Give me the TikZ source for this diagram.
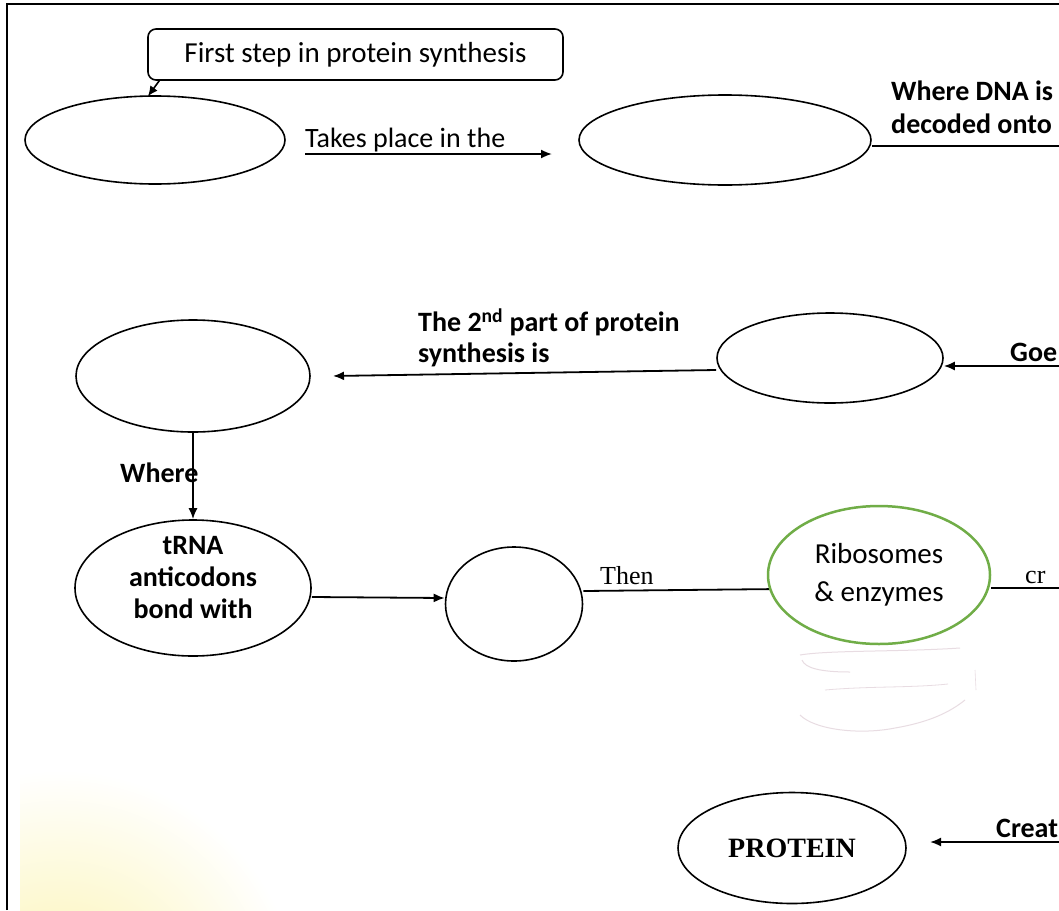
\documentclass[tikz,border=0pt]{standalone}
\usepackage{fontspec}
\setmainfont{Carlito}
\newfontfamily\tnr{Liberation Serif}
\usetikzlibrary{shapes.geometric,arrows.meta}
\definecolor{ogreen}{RGB}{112,173,71}
\definecolor{scrib}{RGB}{232,220,226}
\definecolor{ytint}{RGB}{251,243,172}
\begin{document}
\begin{tikzpicture}[x=1pt,y=-1pt,
  oval/.style={draw, ellipse, line width=1.6pt, inner sep=0pt},
  arr/.style={line width=1.8pt, -{Latex[length=11pt,width=9pt]}},
  conn/.style={line width=1.8pt},
  lbl/.style={font=\fontsize{28}{33}\selectfont, inner sep=0pt, align=left},
  lblb/.style={font=\fontsize{28}{33}\selectfont\bfseries, inner sep=0pt, align=left},
  serif/.style={font=\fontsize{26}{30}\selectfont\tnr, inner sep=0pt},
]
\useasboundingbox (0,0) rectangle (1059,910);
\fill[white] (0,0) rectangle (1059,910);
% yellow tint bottom-left
\begin{scope}
\clip (20,600) rectangle (600,910);
\shade[inner color=ytint, outer color=white] (60,1010) circle (240);
\end{scope}
% frame
\draw[line width=2.5pt] (7,910) -- (7,4) -- (1059,4);

% faint erased scribbles
\draw[scrib, line width=1pt] (800,655) .. controls (830,650) and (900,652) .. (960,648);
\draw[scrib, line width=1pt] (802,660) .. controls (805,668) and (820,672) .. (850,672);
\draw[scrib, line width=0.8pt] (825,690) .. controls (870,686) and (910,688) .. (948,684);
\draw[scrib, line width=1pt] (800,715) .. controls (815,730) and (860,735) .. (895,728) .. controls (930,722) and (950,712) .. (965,700);
\draw[scrib, line width=0.6pt] (975,670) -- (976,690);

% nodes
\node[draw, rounded corners=8pt, line width=1.6pt, minimum width=415pt, minimum height=51pt,
      inner sep=0pt, font=\fontsize{29}{33}\selectfont] (box) at (355.5,54.5) {First step in protein synthesis};
\node[oval, minimum width=260pt, minimum height=88pt] (e1) at (155,140) {};
\node[oval, minimum width=292pt, minimum height=90pt] (e2) at (725,140) {};
\node[oval, minimum width=226pt, minimum height=90pt] (e3) at (830,358) {};
\node[oval, minimum width=234pt, minimum height=112pt] (e4) at (193,376) {};
\node[oval, minimum width=236pt, minimum height=136pt] (e5) at (193,588) {};
\node[lblb, align=center, font=\fontsize{28}{32}\selectfont\bfseries] (t5) at (193,578) {tRNA\\anticodons\\bond with};
\node[oval, minimum width=137pt, minimum height=114pt] (e6) at (514,604) {};
\node[oval, minimum width=228pt, minimum height=111pt, font=\fontsize{28}{30}\selectfont\tnr\bfseries] (prot) at (792,848) {PROTEIN};

% coordinates for free ends
\coordinate (a1s) at (305,154);
\coordinate (a1e) at (552,154);
\coordinate (r1) at (1059,146);
\coordinate (r2) at (1059,366);
\coordinate (a2e) at (333,376);
\coordinate (r3) at (1059,588);
\coordinate (r4) at (1059,842);
\coordinate (a4e) at (930,842);

% connectors
\draw[line width=1.6pt, -{Latex[length=10pt,width=9pt]}] ([xshift=12pt]box.south west) -- ([xshift=-7pt,yshift=-1pt]e1.north);
\draw[arr] (a1s) -- (a1e);
\draw[conn] ([yshift=-6pt]e2.east) -- (r1);
\draw[arr] (r2) -- ([yshift=-8pt]e3.east);
\draw[arr] ([yshift=-12pt]e3.west) -- (a2e);
\draw[arr] (e4.south) -- (e5.north);
\draw[arr] ([yshift=-9pt]e5.east) -- ([yshift=6pt]e6.west);
\draw[conn] ([yshift=13pt]e6.east) -- (879,588);
\node[draw=ogreen, fill=white, ellipse, line width=2.5pt, inner sep=0pt, minimum width=222pt, minimum height=138pt,
      align=center, font=\fontsize{29}{38}\selectfont] (grn) at (879,575) {Ribosomes\\\& enzymes};
\draw[conn] ([yshift=-13pt]grn.east) -- (r3);
\draw[arr] (r4) -- (a4e);

% labels
\node[lbl, anchor=base west] (tk) at (305,147) {Takes place in the};
\node[lblb, anchor=west] (wd) at (891,107) {Where DNA is\\decoded onto};
\node[lblb, anchor=west, font=\fontsize{28}{31}\selectfont\bfseries] (sec) at (418,338) {The 2\textsuperscript{nd} part of protein\\synthesis is};
\node[lblb, anchor=base west] (goe) at (1010,361) {Goe};
\node[lblb, anchor=base west] (wh) at (120,482) {Where};
\node[serif, anchor=base west] (then) at (600,584) {Then};
\node[serif, anchor=base west] (cr) at (1025,583) {cr};
\node[lblb, anchor=base west] (creat) at (996,837) {Creat};
\end{tikzpicture}
\end{document}
